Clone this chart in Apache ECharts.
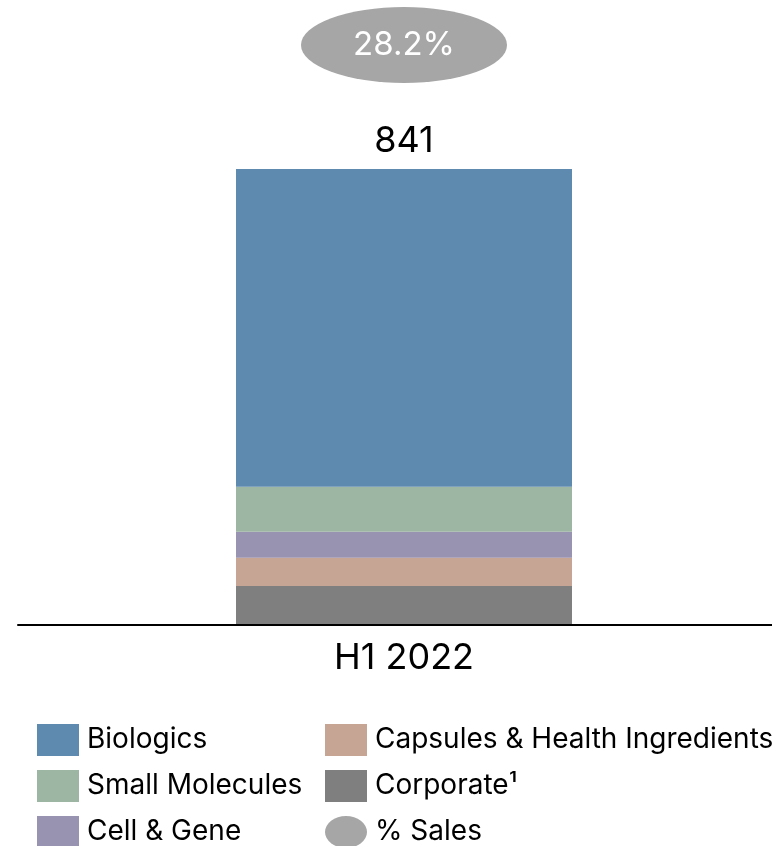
<!DOCTYPE html>
<html>
<head>
<meta charset="utf-8">
<script src="https://cdn.jsdelivr.net/npm/echarts@6/dist/echarts.min.js"></script>
<style>
html,body{margin:0;padding:0;background:#fff;}
#chart{width:772px;height:846px;}
</style>
</head>
<body>
<div id="chart"></div>
<script>
// ---- data ----
const categories = ['H1 2022'];
const corporate = [72];
const capsules = [52];
const cellGene = [48];
const smallMolecules = [83];
const biologics = [586];
const salesPct = [28.2];

const colors = {
  'Biologics': '#5f8ab0',
  'Small Molecules': '#9db5a3',
  'Cell & Gene': '#9893b1',
  'Capsules & Health Ingredients': '#c6a594',
  'Corporate\u00b9': '#7f7f7f',
  '% Sales': '#a6a6a6'
};

const totals = categories.map((c, i) => corporate[i] + capsules[i] + cellGene[i] + smallMolecules[i] + biologics[i]);
const FONT = 'Inter, "Noto Sans", sans-serif';
const ellipsePath = 'path://M0,50 A50,50 0 1,1 100,50 A50,50 0 1,1 0,50 Z';

const chart = echarts.init(document.getElementById('chart'), null, {renderer: 'canvas'});

function barSeries(name, data, extra) {
  return Object.assign({
    name: name,
    type: 'bar',
    stack: 'total',
    xAxisIndex: 0,
    yAxisIndex: 0,
    barWidth: 336,
    data: data,
    itemStyle: {color: colors[name]},
    emphasis: {disabled: true}
  }, extra || {});
}

const legendText = {fontSize: 28, color: '#000', fontFamily: FONT, lineHeight: 32, padding: [6, 0, 0, 3]};

const option = {
  animation: false,
  backgroundColor: '#ffffff',
  textStyle: {fontFamily: FONT},
  grid: [
    {left: 36, right: 0, top: 169, bottom: 221, containLabel: false},
    {left: 36, right: 0, top: 7, height: 76, containLabel: false},
    {left: 18, right: 0, top: 169, bottom: 221, containLabel: false}
  ],
  xAxis: [
    {
      type: 'category', gridIndex: 0, data: categories,
      axisLine: {show: false},
      axisTick: {show: false},
      axisLabel: {color: '#000', fontSize: 36, fontFamily: FONT, margin: 15}
    },
    {type: 'category', gridIndex: 1, data: categories, show: false},
    {
      type: 'category', gridIndex: 2, data: categories,
      axisLine: {show: true, lineStyle: {color: '#000', width: 2}},
      axisTick: {show: false},
      axisLabel: {show: false},
      z: 5
    }
  ],
  yAxis: [
    {type: 'value', gridIndex: 0, min: 0, max: totals[0], show: false, splitLine: {show: false}},
    {type: 'value', gridIndex: 1, min: 0, max: salesPct[0] * 2, show: false, splitLine: {show: false}},
    {type: 'value', gridIndex: 2, min: 0, max: totals[0], show: false, splitLine: {show: false}}
  ],
  legend: [
    {
      orient: 'vertical', left: 37, top: 721, height: 160, padding: 0,
      itemWidth: 42, itemHeight: 32, itemGap: 8,
      icon: 'rect',
      data: ['Biologics', 'Small Molecules', 'Cell & Gene'],
      textStyle: legendText,
      selectedMode: false
    },
    {
      orient: 'vertical', left: 325, top: 721, height: 160, padding: 0,
      itemWidth: 42, itemHeight: 32, itemGap: 8,
      symbolKeepAspect: false,
      data: [
        {name: 'Capsules & Health Ingredients', icon: 'rect'},
        {name: 'Corporate\u00b9', icon: 'rect'},
        {name: '% Sales', icon: ellipsePath}
      ],
      textStyle: legendText,
      selectedMode: false
    }
  ],
  series: [
    barSeries('Corporate\u00b9', corporate),
    barSeries('Capsules & Health Ingredients', capsules),
    barSeries('Cell & Gene', cellGene),
    barSeries('Small Molecules', smallMolecules),
    barSeries('Biologics', biologics, {
      label: {
        show: true, position: 'top', distance: 10,
        color: '#000', fontSize: 36, fontFamily: FONT,
        formatter: p => String(totals[p.dataIndex])
      }
    }),
    {
      name: '% Sales',
      type: 'scatter',
      xAxisIndex: 1,
      yAxisIndex: 1,
      symbol: ellipsePath,
      symbolSize: [206, 76],
      symbolKeepAspect: false,
      data: salesPct,
      itemStyle: {color: colors['% Sales'], opacity: 1},
      label: {
        show: true, position: 'inside',
        color: '#fff', fontSize: 33, fontFamily: FONT, fontWeight: 'normal',
        formatter: p => p.value.toFixed(1) + '%'
      },
      emphasis: {disabled: true}
    }
  ]
};
chart.setOption(option);
</script>
</body>
</html>
